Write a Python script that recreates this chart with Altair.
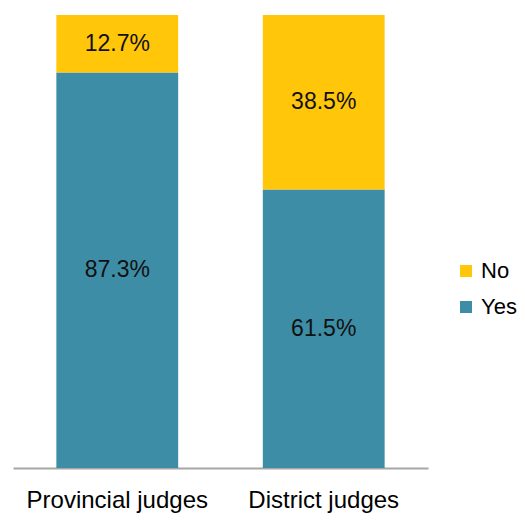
import altair as alt
import pandas as pd

groups = ["Provincial judges", "Provincial judges", "District judges", "District judges"]
answers = ["Yes", "No", "Yes", "No"]
values = [87.3, 12.7, 61.5, 38.5]
order_vals = [0, 1, 0, 1]

categories = ["Provincial judges", "District judges"]
legend_domain = ["No", "Yes"]
colors = ["#FFC60A", "#3D8DA6"]

df = pd.DataFrame({"group": groups, "answer": answers, "value": values, "ord": order_vals})

FONT = "Liberation Sans"

x_enc = alt.X(
    "group:N",
    sort=categories,
    scale=alt.Scale(paddingInner=0.41, paddingOuter=0.21),
    axis=alt.Axis(
        title=None, ticks=False, domainColor="#A6A6A6", domainWidth=2,
        labelFontSize=24, labelFont=FONT, labelColor="#000000",
        labelPadding=39, labelAngle=0, labelBaseline="alphabetic",
        labelLimit=0,
    ),
)

base = alt.Chart(df).transform_stack(
    stack="value", groupby=["group"], as_=["y0", "y1"],
    sort=[alt.SortField("ord", order="ascending")],
).transform_calculate(
    mid="(datum.y0 + datum.y1) / 2",
    label="format(datum.value, '.1f') + '%'",
)

bars = base.mark_bar().encode(
    x=x_enc,
    y=alt.Y("y0:Q", scale=alt.Scale(domain=[0, 100], nice=False), axis=None),
    y2="y1:Q",
    color=alt.Color(
        "answer:N",
        scale=alt.Scale(domain=legend_domain, range=colors),
        legend=alt.Legend(
            title=None, orient="none", legendX=442, legendY=245,
            symbolType="square", symbolSize=144, symbolStrokeWidth=0,
            labelFontSize=22, labelFont=FONT, labelColor="#000000",
            rowPadding=14, padding=0, labelOffset=4,
        ),
    ),
)

texts = base.mark_text(fontSize=23, font=FONT, color="#111111", baseline="middle").encode(
    x=alt.X("group:N", sort=categories),
    y=alt.Y("mid:Q"),
    text="label:N",
)

chart = alt.layer(bars, texts).properties(
    width=415, height=453,
    autosize=alt.AutoSizeParams(type="none"),
    padding={"left": 5, "top": 7, "right": 89, "bottom": 45},
).configure_view(stroke=None).configure_axis(grid=False)

chart.save("out.html", embed_options={"renderer": "svg", "actions": False})
